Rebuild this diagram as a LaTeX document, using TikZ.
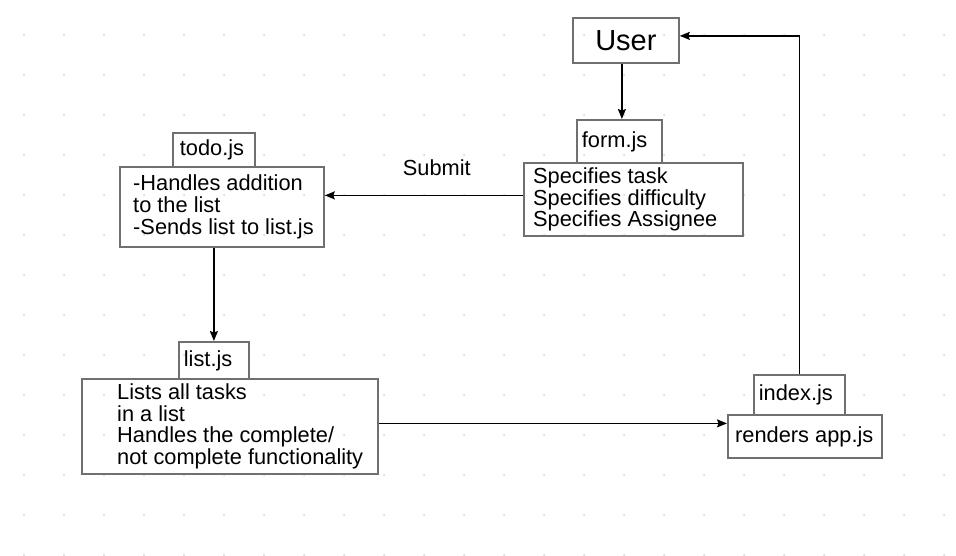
\documentclass[tikz,border=0pt]{standalone}
\usepackage{fontspec}
\setmainfont{Liberation Sans}
\usetikzlibrary{arrows.meta,positioning}
\definecolor{boxgrey}{RGB}{112,112,112}
\definecolor{dotgrey}{RGB}{208,208,208}

\begin{document}
\begin{tikzpicture}[x=1pt,y=-1pt,
    jsbox/.style={draw=boxgrey, line width=1.8pt, anchor=north west, inner sep=0pt},
    jstext/.style={inner sep=0pt, align=left, font=\fontsize{21.8}{21.8}\selectfont},
    tabbox/.style={jsbox, jstext, inner xsep=5pt},
    flow/.style={line width=1.5pt, -{Stealth[length=10pt,width=8pt,inset=1.5pt]}}]
  \useasboundingbox (0,0) rectangle (956,556);
  \foreach \i in {0,...,23}
    \foreach \j in {0,...,13}
      \fill[dotgrey] (24+40*\i, 35+40*\j) circle (1pt);

  \node[jsbox, minimum width=106pt, minimum height=45pt, font=\fontsize{29}{30}\selectfont] (user) at (572,17) {User};

  \node[tabbox, text width=75pt, minimum height=43pt] (formtab) at (576,119) {form.js};
  \node[jsbox, minimum width=219pt, minimum height=73pt] (formbox) at (523,162) {};
  \node[jstext, right=10pt of formbox.west] (formtext) {Specifies task\\Specifies difficulty\\Specifies Assignee};

  \node[tabbox, inner xsep=7pt, text width=68pt, minimum height=34pt] (todotab) at (172,132) {todo.js};
  \node[jsbox, minimum width=204pt, minimum height=80pt] (todobox) at (119,166) {};
  \node[jstext, right=14pt of todobox.west] (todotext) {-Handles addition\\to the list\\-Sends list to list.js};

  \node[tabbox, text width=60pt, minimum height=37pt] (listtab) at (178,341) {list.js};
  \node[jsbox, minimum width=296pt, minimum height=95pt] (listbox) at (81,378) {};
  \node[jstext, right=36pt of listbox.west] (listtext) {Lists all tasks\\in a list\\Handles the complete/\\not complete functionality};

  \node[tabbox, text width=81pt, minimum height=40pt] (indextab) at (753,374) {index.js};
  \node[jsbox, minimum width=154pt, minimum height=43pt] (indexbox) at (727,414) {};
  \node[jstext, right=8pt of indexbox.west] (indextext) {renders app.js};

  \draw[flow] ([xshift=-4pt]user.south) -- ([xshift=-4pt]user.south |- formtab.north);
  \draw[flow] ([yshift=4pt]formbox.west) -- ([yshift=4pt]formbox.west -| todobox.east)
    node[jstext, pos=0.435, above=19pt] (submit) {Submit};
  \draw[flow] (listtab.north |- todobox.south) -- (listtab.north);
  \draw[flow] ([yshift=3pt]listbox.east) -- ([yshift=3pt]listbox.east -| indexbox.west);
  \draw[flow] (indextab.north) |- ([yshift=4.5pt]user.east);
\end{tikzpicture}
\end{document}
